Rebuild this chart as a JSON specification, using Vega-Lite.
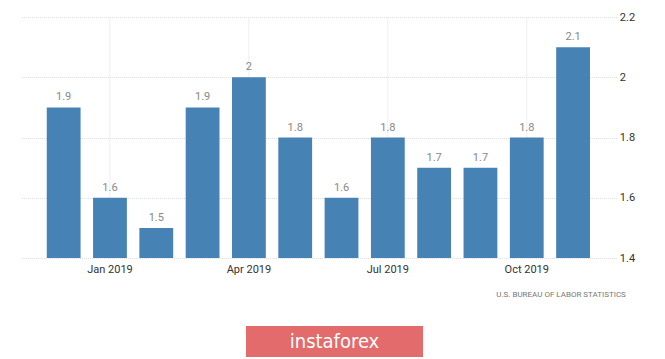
{
  "$schema": "https://vega.github.io/schema/vega-lite/v6.json",
  "background": "white",
  "padding": {"left": 20, "top": 11, "right": 0, "bottom": 0},
  "config": {"font": "Roboto", "view": {"stroke": null}},
  "center": true,
  "spacing": 28,
  "vconcat": [
    {
      "width": 596,
      "height": 241,
      "data": {"values": [
        {"month": "Dec 2018", "value": 1.9},
        {"month": "Jan 2019", "value": 1.6},
        {"month": "Feb 2019", "value": 1.5},
        {"month": "Mar 2019", "value": 1.9},
        {"month": "Apr 2019", "value": 2.0},
        {"month": "May 2019", "value": 1.8},
        {"month": "Jun 2019", "value": 1.6},
        {"month": "Jul 2019", "value": 1.8},
        {"month": "Aug 2019", "value": 1.7},
        {"month": "Sep 2019", "value": 1.7},
        {"month": "Oct 2019", "value": 1.8},
        {"month": "Nov 2019", "value": 2.1}
      ]},
      "encoding": {
        "x": {
          "field": "month", "type": "ordinal", "sort": null,
          "scale": {"paddingInner": 0.27, "paddingOuter": 0.57},
          "axis": {
            "values": ["Jan 2019", "Apr 2019", "Jul 2019", "Oct 2019"],
            "bandPosition": 0.5, "labelAngle": 0, "ticks": false, "domain": false,
            "grid": true, "gridColor": "#dcdcdc", "gridDash": [1, 1],
            "labelFontSize": 11, "labelColor": "#333", "labelPadding": 5,
            "title": "U.S. BUREAU OF LABOR STATISTICS",
            "titleAnchor": "end", "titleAlign": "right", "titleX": 605,
            "titleFontSize": 8, "titleFontWeight": "normal", "titleColor": "#777",
            "titlePadding": 16
          }
        },
        "y": {
          "field": "value", "type": "quantitative",
          "scale": {"domain": [1.4, 2.2], "zero": false, "nice": false},
          "axis": {
            "orient": "right", "values": [1.4, 1.6, 1.8, 2.0, 2.2], "format": "~g",
            "ticks": false, "domain": false, "grid": true,
            "gridColor": "#dcdcdc", "gridDash": [1, 1],
            "labelFontSize": 11, "labelColor": "#333", "labelPadding": 3,
            "title": " ", "titlePadding": 3, "titleFontSize": 11
          }
        }
      },
      "layer": [
        {"mark": {"type": "bar", "color": "#4682b4", "clip": true}},
        {
          "mark": {"type": "text", "baseline": "bottom", "dy": -5, "fontSize": 11, "color": "#888"},
          "encoding": {"text": {"field": "value", "type": "quantitative"}}
        }
      ]
    },
    {
      "width": 177,
      "height": 31,
      "view": {"fill": "#e36b6b", "stroke": null},
      "data": {"values": [{"label": "instaforex"}]},
      "mark": {"type": "text", "fontSize": 20, "color": "white", "font": "Liberation Sans Narrow, DejaVu Sans Condensed, sans-serif", "baseline": "middle", "align": "center"},
      "encoding": {"text": {"field": "label", "type": "nominal"}}
    }
  ]
}
